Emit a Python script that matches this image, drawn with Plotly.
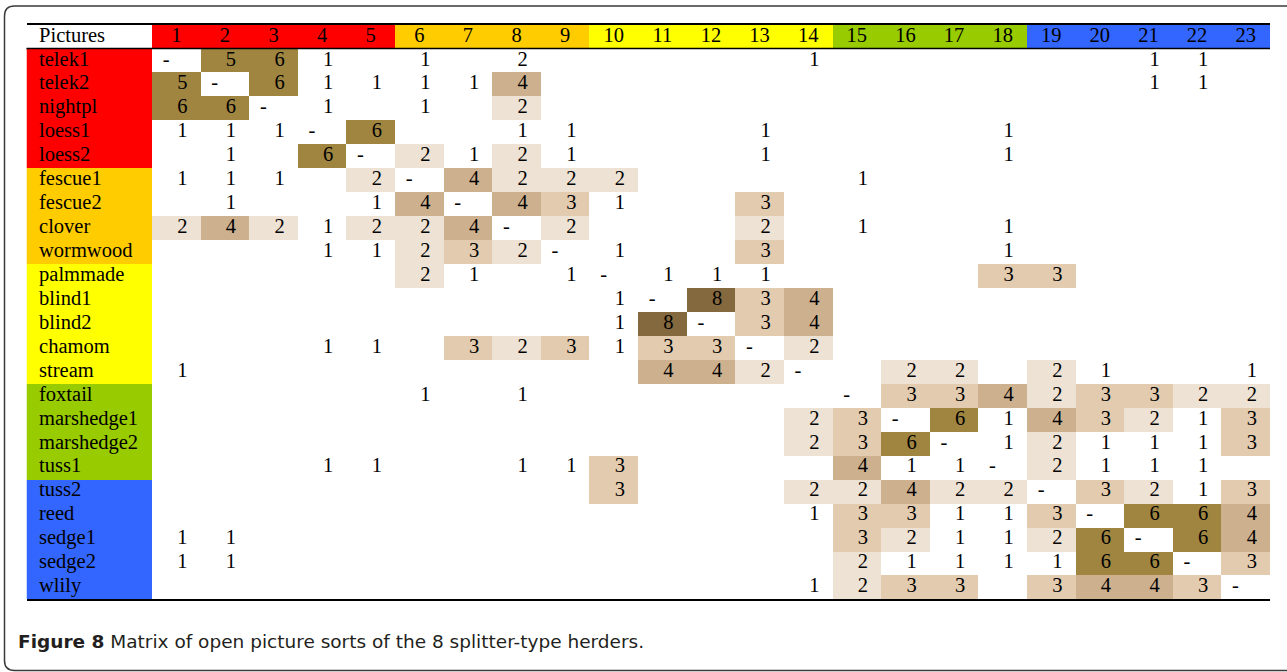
import plotly.graph_objects as go

W, H = 1287, 672

rows = ["telek1", "telek2", "nightpl", "loess1", "loess2", "fescue1", "fescue2",
        "clover", "wormwood", "palmmade", "blind1", "blind2", "chamom", "stream",
        "foxtail", "marshedge1", "marshedge2", "tuss1", "tuss2", "reed", "sedge1",
        "sedge2", "wlily"]
cols = list(range(1, 24))
header_label = "Pictures"
groups = [0] * 5 + [1] * 4 + [2] * 5 + [3] * 4 + [4] * 5   # same order for rows and columns
group_colors = ["#FF0000", "#FFCC00", "#FFFF00", "#99CC00", "#3366FF"]

D = "-"
matrix = [
    [D, 5, 6, 1, 0, 1, 0, 2, 0, 0, 0, 0, 0, 1, 0, 0, 0, 0, 0, 0, 1, 1, 0],
    [5, D, 6, 1, 1, 1, 1, 4, 0, 0, 0, 0, 0, 0, 0, 0, 0, 0, 0, 0, 1, 1, 0],
    [6, 6, D, 1, 0, 1, 0, 2, 0, 0, 0, 0, 0, 0, 0, 0, 0, 0, 0, 0, 0, 0, 0],
    [1, 1, 1, D, 6, 0, 0, 1, 1, 0, 0, 0, 1, 0, 0, 0, 0, 1, 0, 0, 0, 0, 0],
    [0, 1, 0, 6, D, 2, 1, 2, 1, 0, 0, 0, 1, 0, 0, 0, 0, 1, 0, 0, 0, 0, 0],
    [1, 1, 1, 0, 2, D, 4, 2, 2, 2, 0, 0, 0, 0, 1, 0, 0, 0, 0, 0, 0, 0, 0],
    [0, 1, 0, 0, 1, 4, D, 4, 3, 1, 0, 0, 3, 0, 0, 0, 0, 0, 0, 0, 0, 0, 0],
    [2, 4, 2, 1, 2, 2, 4, D, 2, 0, 0, 0, 2, 0, 1, 0, 0, 1, 0, 0, 0, 0, 0],
    [0, 0, 0, 1, 1, 2, 3, 2, D, 1, 0, 0, 3, 0, 0, 0, 0, 1, 0, 0, 0, 0, 0],
    [0, 0, 0, 0, 0, 2, 1, 0, 1, D, 1, 1, 1, 0, 0, 0, 0, 3, 3, 0, 0, 0, 0],
    [0, 0, 0, 0, 0, 0, 0, 0, 0, 1, D, 8, 3, 4, 0, 0, 0, 0, 0, 0, 0, 0, 0],
    [0, 0, 0, 0, 0, 0, 0, 0, 0, 1, 8, D, 3, 4, 0, 0, 0, 0, 0, 0, 0, 0, 0],
    [0, 0, 0, 1, 1, 0, 3, 2, 3, 1, 3, 3, D, 2, 0, 0, 0, 0, 0, 0, 0, 0, 0],
    [1, 0, 0, 0, 0, 0, 0, 0, 0, 0, 4, 4, 2, D, 0, 2, 2, 0, 2, 1, 0, 0, 1],
    [0, 0, 0, 0, 0, 1, 0, 1, 0, 0, 0, 0, 0, 0, D, 3, 3, 4, 2, 3, 3, 2, 2],
    [0, 0, 0, 0, 0, 0, 0, 0, 0, 0, 0, 0, 0, 2, 3, D, 6, 1, 4, 3, 2, 1, 3],
    [0, 0, 0, 0, 0, 0, 0, 0, 0, 0, 0, 0, 0, 2, 3, 6, D, 1, 2, 1, 1, 1, 3],
    [0, 0, 0, 1, 1, 0, 0, 1, 1, 3, 0, 0, 0, 0, 4, 1, 1, D, 2, 1, 1, 1, 0],
    [0, 0, 0, 0, 0, 0, 0, 0, 0, 3, 0, 0, 0, 2, 2, 4, 2, 2, D, 3, 2, 1, 3],
    [0, 0, 0, 0, 0, 0, 0, 0, 0, 0, 0, 0, 0, 1, 3, 3, 1, 1, 3, D, 6, 6, 4],
    [1, 1, 0, 0, 0, 0, 0, 0, 0, 0, 0, 0, 0, 0, 3, 2, 1, 1, 2, 6, D, 6, 4],
    [1, 1, 0, 0, 0, 0, 0, 0, 0, 0, 0, 0, 0, 0, 2, 1, 1, 1, 1, 6, 6, D, 3],
    [0, 0, 0, 0, 0, 0, 0, 0, 0, 0, 0, 0, 0, 1, 2, 3, 3, 0, 3, 4, 4, 3, D],
]
# cells left unhighlighted in the original despite their value
unshaded = [("telek1", 8)]

shade_colors = {2: "#EDE2D3", 3: "#E2CBAF", 4: "#CDB18F",
                5: "#A08540", 6: "#A08540", 8: "#85693E"}

caption_bold = "Figure 8"
caption_text = "Matrix of open picture sorts of the 8 splitter-type herders."

# ---------------------------------------------------------------- geometry
px_label_left, px_label_right, px_table_right = 26.5, 152.0, 1270.0
px_top, px_bottom = 24.5, 599.0

def fx(p):
    return p / W

def fy(p):
    return 1 - p / H

SERIF = "Liberation Serif"
FS = 20.5

# ---------------------------------------------------------------- shading
nlev = 9
def discrete_scale(colors):
    n = len(colors)
    sc = []
    for i, c in enumerate(colors):
        sc.append([i / n, c])
        sc.append([(i + 1) / n, c])
    return sc

shade_scale = discrete_scale([shade_colors.get(k, "#FFFFFF") for k in range(nlev)])
z = []
for ri, r in enumerate(rows):
    zr = []
    for ci, c in enumerate(cols):
        v = matrix[ri][ci]
        if v == D or (r, c) in unshaded:
            zr.append(0)
        else:
            zr.append(v)
    z.append(zr)

fig = go.Figure()

fig.add_trace(go.Heatmap(
    x=cols, y=list(range(1, len(rows) + 1)), z=z,
    colorscale=shade_scale, zmin=-0.5, zmax=nlev - 0.5,
    showscale=False, hoverinfo="skip", xaxis="x", yaxis="y"))

# header row colours
fig.add_trace(go.Heatmap(
    x=cols, y=[0], z=[groups],
    colorscale=discrete_scale(group_colors), zmin=-0.5, zmax=len(group_colors) - 0.5,
    showscale=False, hoverinfo="skip", xaxis="x", yaxis="y"))

# label column colours (header cell white)
fig.add_trace(go.Heatmap(
    x=[0], y=list(range(0, len(rows) + 1)), z=[[g] for g in [-1] + groups],
    colorscale=discrete_scale(["#FFFFFF"] + group_colors), zmin=-1.5,
    zmax=len(group_colors) - 0.5,
    showscale=False, hoverinfo="skip", xaxis="x2", yaxis="y"))

# cell texts
tx, ty, tt = [], [], []
dx, dy = [], []
for ri in range(len(rows)):
    for ci, c in enumerate(cols):
        v = matrix[ri][ci]
        if v == D:
            dx.append(c - 0.21)
            dy.append(ri + 1)
        elif v:
            tx.append(c + 0.125)
            ty.append(ri + 1)
            tt.append(str(v))

fig.add_trace(go.Scatter(x=tx, y=ty, text=tt, mode="text",
                         textfont=dict(family=SERIF, size=FS, color="#000"),
                         hoverinfo="skip", xaxis="x", yaxis="y"))
fig.add_trace(go.Scatter(x=dx, y=dy, text=[D] * len(dx), mode="text",
                         textfont=dict(family=SERIF, size=FS, color="#000"),
                         hoverinfo="skip", xaxis="x", yaxis="y"))
# header numbers
fig.add_trace(go.Scatter(x=cols, y=[0] * len(cols), text=[str(c) for c in cols],
                         mode="text", textfont=dict(family=SERIF, size=FS, color="#000"),
                         hoverinfo="skip", xaxis="x", yaxis="y"))
# row labels
fig.add_trace(go.Scatter(x=[-0.40] * (len(rows) + 1), y=list(range(0, len(rows) + 1)),
                         text=[header_label] + rows, mode="text",
                         textposition="middle right",
                         textfont=dict(family=SERIF, size=FS, color="#000"),
                         hoverinfo="skip", xaxis="x2", yaxis="y"))

axis_common = dict(showgrid=False, zeroline=False, showticklabels=False, ticks="",
                   showline=True, mirror=True, linecolor="#000", linewidth=1.5,
                   fixedrange=True)
fig.update_layout(
    width=W, height=H,
    margin=dict(l=0, r=0, t=0, b=0),
    paper_bgcolor="white", plot_bgcolor="white",
    showlegend=False, hovermode=False,
    xaxis=dict(domain=[fx(px_label_right), fx(px_table_right)],
               range=[0.5, len(cols) + 0.5], anchor="y", **axis_common),
    xaxis2=dict(domain=[fx(px_label_left), fx(px_label_right)],
                range=[-0.5, 0.5], anchor="y", **axis_common),
    yaxis=dict(domain=[fy(px_bottom), fy(px_top)], range=[len(rows) + 0.5, -0.5],
               showgrid=False, zeroline=False, showticklabels=False, ticks="",
               showline=False, fixedrange=True),
)

# header separator line
fig.add_shape(type="line", xref="paper", yref="y",
              x0=fx(px_label_left), x1=fx(px_table_right), y0=0.5, y1=0.5,
              line=dict(color="#000", width=1.5))

# rounded frame
r = 10
x0p, y0p, x1p, y1p = 4.5, 6.0, W + 20, 670.5
path = (f"M {fx(x1p)},{fy(y0p)} L {fx(x0p + r)},{fy(y0p)} "
        f"Q {fx(x0p)},{fy(y0p)} {fx(x0p)},{fy(y0p + r)} "
        f"L {fx(x0p)},{fy(y1p - r)} Q {fx(x0p)},{fy(y1p)} {fx(x0p + r)},{fy(y1p)} "
        f"L {fx(x1p)},{fy(y1p)}")
fig.add_shape(type="path", xref="paper", yref="paper", path=path,
              line=dict(color="#3a3a3a", width=1.5))

fig.add_annotation(xref="paper", yref="paper", x=fx(16), y=fy(641),
                   xanchor="left", yanchor="middle", showarrow=False,
                   text=f"<b>{caption_bold}</b> {caption_text}",
                   font=dict(family="DejaVu Sans", size=18.5, color="#231F20"))

fig.write_html("out.html", config={"displayModeBar": False, "staticPlot": True},
               post_script="document.body.style.margin='0';")
